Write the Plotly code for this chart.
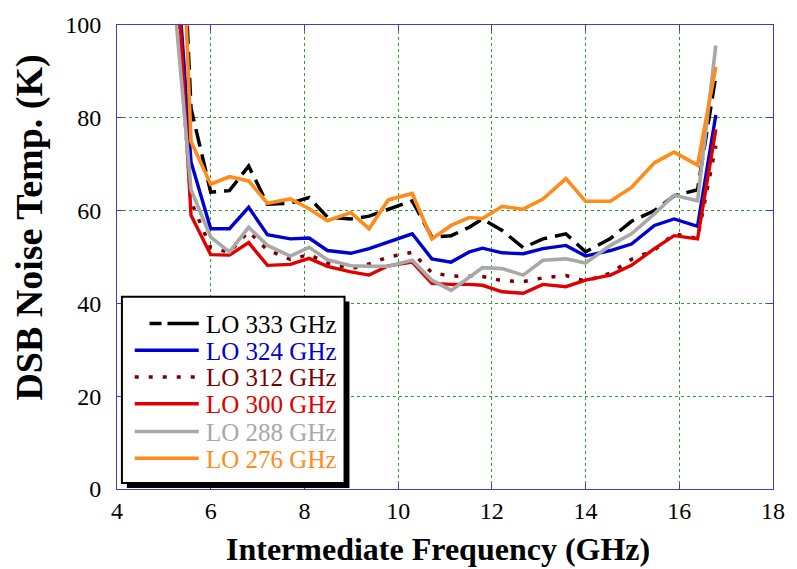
import plotly.graph_objects as go

# IF frequency points (GHz)
if_ghz = [5.2, 5.58, 6.0, 6.4, 6.81, 7.21, 7.7, 8.1, 8.49, 8.99, 9.38, 9.79, 10.3, 10.72,
          11.13, 11.52, 11.8, 12.22, 12.67, 13.09, 13.58, 14.0, 14.53, 14.98, 15.47, 15.89,
          16.39, 16.78]

lo333 = [167, 82, 64, 64.3, 69.6, 61.4, 61.6, 62.8, 58.6, 58.2, 58.8, 60.3, 62.1, 54.3,
         54.6, 56.4, 58.2, 55.7, 52.0, 53.9, 55.0, 51.1, 54.0, 57.7, 60.0, 63.2, 64.5, 89]
lo324 = [124, 70.5, 56.1, 56.1, 60.7, 54.8, 53.9, 54.1, 51.4, 50.8, 51.8, 53.2, 55.0, 49.6,
         48.9, 51.1, 51.9, 50.9, 50.7, 51.8, 52.5, 50.2, 51.4, 52.8, 56.8, 58.2, 56.6, 80.6]
lo312 = [115, 62, 52, 51, 55.5, 51.5, 49.5, 50.5, 48.7, 47.5, 48.5, 50.0, 51.0, 46.6,
         45.9, 45.9, 45.8, 44.9, 44.7, 45.5, 46.0, 44.8, 46.5, 49.5, 51.5, 55.0, 54.0, 74]
lo300 = [127, 59, 50.5, 50.4, 53.1, 48.2, 48.4, 49.7, 48.0, 46.8, 46.1, 48.1, 48.9, 44.3,
         44.1, 44.1, 43.9, 42.5, 42.2, 44.1, 43.6, 45.0, 46.1, 48.2, 51.8, 54.6, 53.9, 77.5]
lo288 = [108, 64.5, 54.3, 51.1, 56.4, 52.5, 50.2, 52.1, 49.4, 48.1, 48.0, 48.0, 49.3, 45.0,
         42.8, 45.7, 47.7, 47.5, 46.1, 49.3, 49.6, 48.7, 52.5, 55.0, 59.3, 63.3, 62.1, 95.6]
lo276 = [170, 74.9, 65.7, 67.3, 66.4, 61.6, 62.5, 60.4, 57.8, 59.6, 56.1, 62.3, 63.7, 53.9,
         56.8, 58.5, 58.3, 60.9, 60.3, 62.5, 66.9, 62.0, 62.0, 65.0, 70.3, 72.6, 69.8, 91]

series_names = ["LO 333 GHz", "LO 324 GHz", "LO 312 GHz", "LO 300 GHz", "LO 288 GHz", "LO 276 GHz"]
series_vals = [lo333, lo324, lo312, lo300, lo288, lo276]
colors = ["#000000", "#0000d0", "#7a0000", "#e00000", "#a8a8a8", "#ff8c1a"]
dashes = ["18px,8px", "solid", "4px,10px", "solid", "solid", "solid"]
widths = [3.5, 3.4, 3.5, 3.4, 3.6, 3.6]

x_ticks = [4, 6, 8, 10, 12, 14, 16, 18]
y_ticks = [0, 20, 40, 60, 80, 100]

SERIF = "Liberation Serif"
AXIS_BLUE = "#3c3cd0"
GRID_GREEN = "#2f9f2f"

W, H = 797, 569
ML, MR, MT, MB = 117, 14, 21, 80
PW, PH = W - ML - MR, H - MT - MB


def px(xp):
    return (xp - ML) / PW


def py(yp):
    return (H - MB - yp) / PH


fig = go.Figure()
for name, vals, c, d, w in zip(series_names, series_vals, colors, dashes, widths):
    fig.add_trace(go.Scatter(
        x=if_ghz, y=vals, mode="lines", name=name,
        line=dict(color=c, dash=d, width=w), showlegend=False,
    ))

# hand-built legend box (with drop shadow) drawn over the plot
shapes = [
    dict(type="rect", xref="paper", yref="paper",
         x0=px(127), x1=px(353), y0=py(488), y1=py(300),
         fillcolor="black", line=dict(width=0), layer="above"),
    dict(type="rect", xref="paper", yref="paper",
         x0=px(122), x1=px(348), y0=py(483), y1=py(295),
         fillcolor="white", line=dict(color="black", width=2), layer="above"),
]
annotations = []
row_y = [322, 349, 376, 403, 431, 458]
for i, (name, c, d, w) in enumerate(zip(series_names, colors, dashes, widths)):
    x_start = 150 if i == 0 else 135
    shapes.append(dict(type="line", xref="paper", yref="paper",
                       x0=px(x_start), x1=px(200), y0=py(row_y[i]), y1=py(row_y[i]),
                       line=dict(color=c, dash=("12px,6px,34px,6px" if i == 0 else d), width=w),
                       layer="above"))
    annotations.append(dict(text=name, xref="paper", yref="paper",
                            x=px(205), y=py(row_y[i] + 1), xanchor="left", yanchor="middle",
                            showarrow=False, font=dict(family=SERIF, size=25, color=c)))

annotations += [
    dict(text="<b>Intermediate Frequency (GHz)</b>", xref="paper", yref="paper",
         x=px(443), y=py(529), xanchor="center", yanchor="top", showarrow=False,
         font=dict(family=SERIF, size=32, color="black")),
    dict(text="<b>DSB Noise Temp. (K)</b>", xref="paper", yref="paper",
         x=px(28), y=py(225), xanchor="center", yanchor="middle", showarrow=False,
         textangle=-90, font=dict(family=SERIF, size=38, color="black")),
]

fig.update_layout(
    width=W, height=H,
    margin=dict(l=ML, r=MR, t=MT, b=MB),
    paper_bgcolor="white", plot_bgcolor="white",
    font=dict(family=SERIF, size=24, color="black"),
    showlegend=False,
    shapes=shapes,
    annotations=annotations,
    xaxis=dict(
        range=[4, 18], tickvals=x_ticks, ticktext=[str(v) for v in x_ticks],
        showline=True, linecolor=AXIS_BLUE, linewidth=1, mirror="ticks",
        ticks="inside", ticklen=6, tickcolor=AXIS_BLUE,
        showgrid=True, gridcolor=GRID_GREEN, griddash="dot", gridwidth=1,
        zeroline=False, tickfont=dict(family=SERIF, size=24),
    ),
    yaxis=dict(
        range=[0, 100], tickvals=y_ticks, ticktext=[str(v) for v in y_ticks],
        showline=True, linecolor=AXIS_BLUE, linewidth=1, mirror="ticks",
        ticks="inside", ticklen=6, tickcolor=AXIS_BLUE,
        showgrid=True, gridcolor=GRID_GREEN, griddash="dot", gridwidth=1,
        zeroline=False, tickfont=dict(family=SERIF, size=24),
        ticklabelstandoff=10,
    ),
)

fig.write_html("out.html")
